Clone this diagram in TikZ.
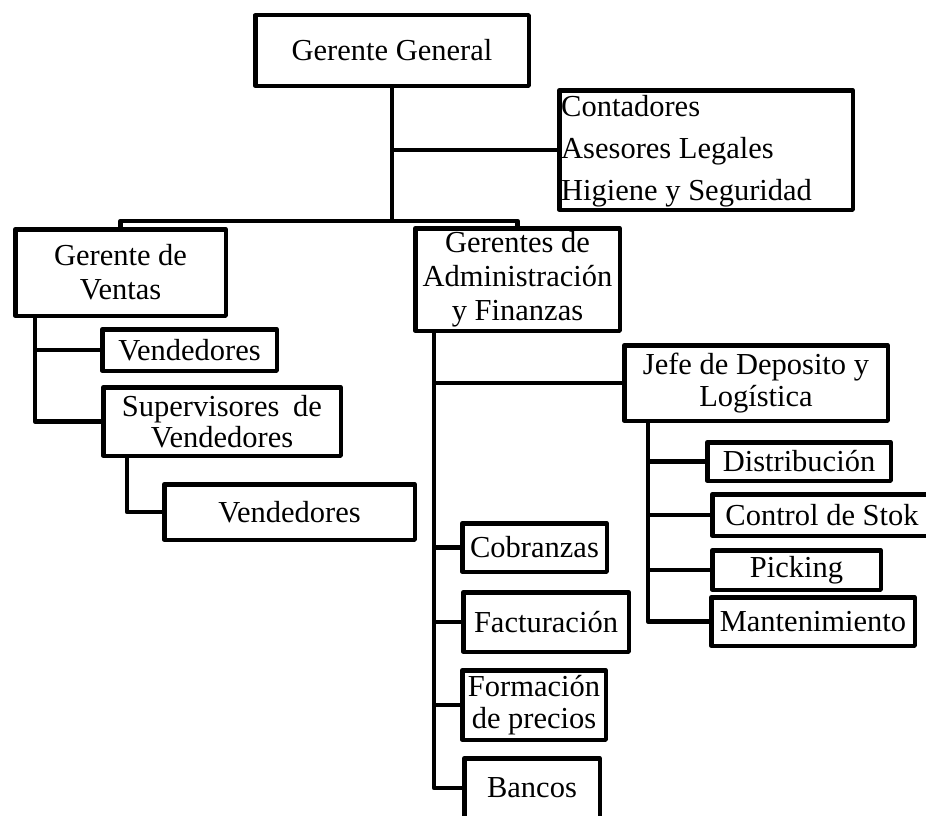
\documentclass[tikz,border=0pt]{standalone}
\usepackage{fontspec}
\setmainfont{Liberation Serif}
\begin{document}
\begin{tikzpicture}[x=1pt,y=-1pt,
  box/.style={draw=black, line width=4.5pt, fill=white, line join=round, inner sep=0pt, align=center, font=\fontsize{30.5}{34}\selectfont},
  link/.style={draw=black, line width=4.5pt, line join=round}]
\clip (0,0) rectangle (926,816);
% boxes
\node[box, minimum width=273.5pt, minimum height=70.5pt] (gg) at (392,50.5) {Gerente General};
\node[box, minimum width=293.5pt, minimum height=119.5pt] (cont) at (706,150) {};
\node[inner sep=0pt, anchor=west, align=flush left, font=\fontsize{30.5}{42}\selectfont] (contt) at (561,151.5) {Contadores\\Asesores Legales\\Higiene y Seguridad};
\node[box, minimum width=210.5pt, minimum height=86.5pt] (ventas) at (120.5,272.5) {Gerente de\\Ventas};
\node[box, minimum width=204.5pt, minimum height=102.5pt] (admin) at (517.5,279.5) {Gerentes de\\Administración\\y Finanzas};
\node[box, minimum width=174.5pt, minimum height=41.5pt] (vend1) at (189.5,350) {Vendedores};
\node[box, minimum width=237.5pt, minimum height=68.5pt, font=\fontsize{30.5}{31}\selectfont] (superv) at (222,421.5) {Supervisores\hspace{0.45em}de\\Vendedores};
\node[box, minimum width=250.5pt, minimum height=55.5pt] (vend2) at (289.5,512) {Vendedores};
\node[box, minimum width=263.5pt, minimum height=75.5pt, font=\fontsize{30.5}{32}\selectfont] (jefe) at (756,383) {Jefe de Deposito y\\Logística};
\node[box, minimum width=183.5pt, minimum height=38.5pt] (dist) at (799,461.5) {Distribución};
\node[box, minimum width=219.5pt, minimum height=41.5pt] (ctrl) at (822,515) {Control de Stok};
\node[box, minimum width=168.5pt, minimum height=39.5pt] (pick) at (796.5,570) {Picking};
\node[box, minimum width=203.5pt, minimum height=48.5pt] (mant) at (813,621.5) {Mantenimiento};
\node[box, minimum width=144.5pt, minimum height=48.5pt] (cobr) at (534.5,547.5) {Cobranzas};
\node[box, minimum width=165.5pt, minimum height=59.5pt] (fact) at (546,622) {Facturación};
\node[box, minimum width=143.5pt, minimum height=69.5pt, font=\fontsize{30.5}{32}\selectfont] (form) at (534,705) {Formación\\de precios};
\node[box, minimum width=135.5pt, minimum height=59.5pt] (bancos) at (532,788) {Bancos};
% connectors
\coordinate (j1) at (392,221);
\draw[link] (gg.south) -- (j1);
\draw[link] (ventas.north) |- (j1) -| (admin.north);
\draw[link] (gg.south |- cont.west) -- (cont.west);
\coordinate (vx) at (35,0);
\draw[link] (vx |- ventas.south) |- (superv.west);
\draw[link] (vx |- vend1.west) -- (vend1.west);
\coordinate (sx) at (127,0);
\draw[link] (sx |- superv.south) |- (vend2.west);
\coordinate (ax) at (434,0);
\draw[link] (ax |- admin.south) |- (bancos.west);
\draw[link] (ax |- jefe.west) -- (jefe.west);
\draw[link] (ax |- cobr.west) -- (cobr.west);
\draw[link] (ax |- fact.west) -- (fact.west);
\draw[link] (ax |- form.west) -- (form.west);
\coordinate (jx) at (648,0);
\draw[link] (jx |- jefe.south) |- (mant.west);
\draw[link] (jx |- dist.west) -- (dist.west);
\draw[link] (jx |- ctrl.west) -- (ctrl.west);
\draw[link] (jx |- pick.west) -- (pick.west);
\end{tikzpicture}
\end{document}
